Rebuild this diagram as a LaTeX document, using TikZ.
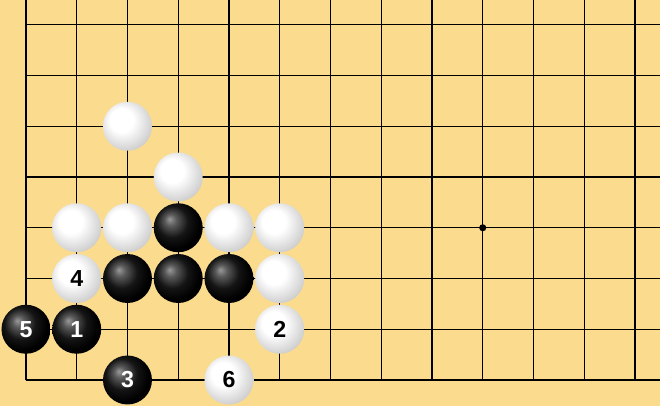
\documentclass[tikz,border=0pt]{standalone}
\usepackage{fontspec}
\newfontfamily\stonefont{Liberation Sans}
\usepackage{tikz}
\definecolor{board}{RGB}{251,220,142}
\pgfdeclareradialshading{blackstone}{\pgfpoint{-9bp}{9bp}}{color(0bp)=(black!40); color(6bp)=(black!65); color(16bp)=(black!92); color(26bp)=(black); color(50bp)=(black)}
\pgfdeclareradialshading{whitestone}{\pgfpoint{-8bp}{8bp}}{color(0bp)=(white); color(12bp)=(white); color(28bp)=(black!18); color(36bp)=(black!32); color(50bp)=(black!38)}
\tikzset{
  stone/.style={circle, inner sep=0pt, minimum size=0.965cm, font=\stonefont\bfseries\fontsize{13}{13}\selectfont},
  bstone/.style={stone, shading=blackstone, text=white},
  wstone/.style={stone, shading=whitestone, text=black},
}

\begin{document}
\begin{tikzpicture}[scale=1]
      \useasboundingbox (-0.512,-0.512) rectangle (12.493,7.488);
      \fill[board] (-0.512,-0.512) rectangle (12.493,7.488);
      \begin{scope}
      \clip (-0.512,-0.512) rectangle (12.493,7.488);
      \draw[line width=0.8pt] (0,0) grid (13,8);
      \end{scope}
      \node (star) at (9,3) [circle, fill, inner sep=0pt, minimum size=0.14cm] {};
      % white stones
      \node (W1) at (2,5) [wstone] {};
      \node (W2) at (3,4) [wstone] {};
      \node (W3) at (1,3) [wstone] {};
      \node (W4) at (2,3) [wstone] {};
      \node (W5) at (4,3) [wstone] {};
      \node (W6) at (5,3) [wstone] {};
      \node (W7) at (5,2) [wstone] {};
      \node (M4) at (1,2) [wstone] {4};
      \node (M2) at (5,1) [wstone] {2};
      \node (M6) at (4,0) [wstone] {6};
      % black stones
      \node (B1) at (3,3) [bstone] {};
      \node (B2) at (2,2) [bstone] {};
      \node (B3) at (3,2) [bstone] {};
      \node (B4) at (4,2) [bstone] {};
      \node (M5) at (0,1) [bstone] {5};
      \node (M1) at (1,1) [bstone] {1};
      \node (M3) at (2,0) [bstone] {3};
    \end{tikzpicture}
\end{document}
